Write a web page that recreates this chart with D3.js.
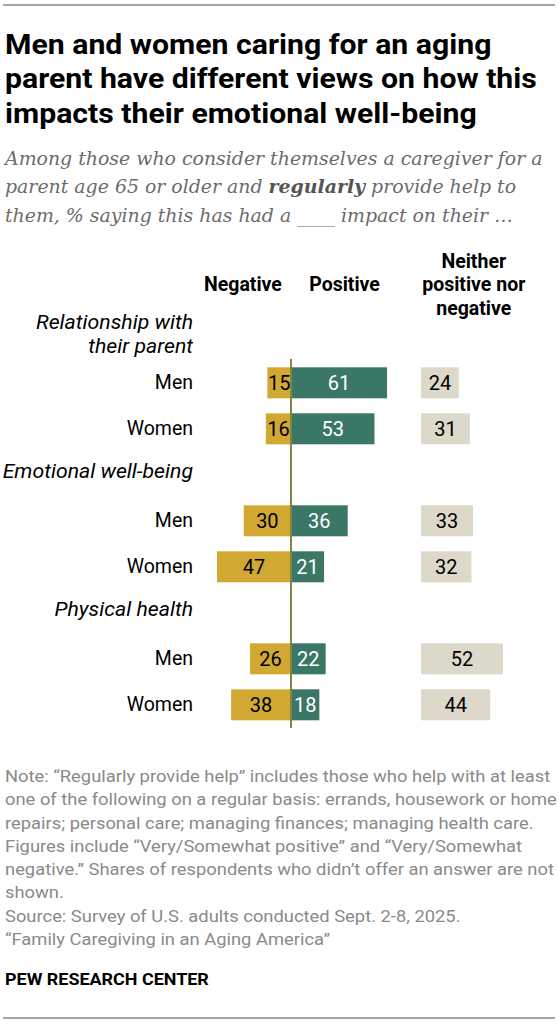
<!DOCTYPE html>
<html>
<head>
<meta charset="utf-8">
<script src="https://cdn.jsdelivr.net/npm/d3@7"></script>
<style>
  html, body { margin: 0; padding: 0; background: #fff; }
  svg { display: block; }
</style>
</head>
<body>
<svg id="chart" width="559" height="1024"></svg>
<script>
// ---------------- data ----------------
const groups = ["Relationship with|their parent", "Emotional well-being", "Physical health"];
const rowLabels = ["Men", "Women"];
const negative = [15, 16, 30, 47, 26, 38];
const positive = [61, 53, 36, 21, 22, 18];
const neither  = [24, 31, 33, 32, 52, 44];
const headers = ["Negative", "Positive", "Neither|positive nor|negative"];

const titleLines = [
  "Men and women caring for an aging",
  "parent have different views on how this",
  "impacts their emotional well-being"
];
const subtitleLines = [
  [["Among those who consider themselves a caregiver for a", false]],
  [["parent age 65 or older and ", false], ["regularly", true], [" provide help to", false]],
  [["them, % saying this has had a ____ impact on their …", false]]
];
const noteLines = [
  "Note: \u201cRegularly provide help\u201d includes those who help with at least",
  "one of the following on a regular basis: errands, housework or home",
  "repairs; personal care; managing finances; managing health care.",
  "Figures include \u201cVery/Somewhat positive\u201d and \u201cVery/Somewhat",
  "negative.\u201d Shares of respondents who didn\u2019t offer an answer are not",
  "shown.",
  "Source: Survey of U.S. adults conducted Sept. 2-8, 2025.",
  "\u201cFamily Caregiving in an Aging America\u201d"
];
const credit = "PEW RESEARCH CENTER";

// ---------------- build rows ----------------
const rows = [];
groups.forEach((g, gi) => rowLabels.forEach((r, ri) => {
  const i = gi * rowLabels.length + ri;
  rows.push({group: g, row: r, neg: negative[i], pos: positive[i], nei: neither[i]});
}));

// ---------------- styles ----------------
const C = {
  neg: "#D1A832", pos: "#3A7767", nei: "#DCD9CA", zero: "#85843F",
  text: "#000", sub: "#6b6b6b", note: "#8a8a8a", rule: "#a6a6a6"
};
const SANS = "Roboto, 'Noto Sans', 'Liberation Sans', Arial, sans-serif";
const SERIF = "'DejaVu Serif', 'Liberation Serif', Georgia, serif";

const svg = d3.select("#chart");

// rules
svg.append("line").attr("x1", 3).attr("x2", 555).attr("y1", 5).attr("y2", 5)
  .attr("stroke", C.rule).attr("stroke-width", 2);
svg.append("line").attr("x1", 3).attr("x2", 555).attr("y1", 1018).attr("y2", 1018)
  .attr("stroke", C.rule).attr("stroke-width", 2);

function fitGroup(g, x0, target) {
  const w = d3.max(g.selectAll("text").nodes(), n => n.getComputedTextLength());
  const s = target / w;
  g.attr("transform", `translate(${x0},0) scale(${s},1)`);
}

// title
const tg = svg.append("g");
tg.selectAll("text").data(titleLines).join("text")
  .attr("x", 0).attr("y", (d, i) => 54 + i * 34.5)
  .attr("font-family", SANS).attr("font-weight", 700).attr("font-size", 28)
  .attr("fill", C.text).text(d => d);
fitGroup(tg, 5, 532);

// subtitle
const sg = svg.append("g");
sg.selectAll("text").data(subtitleLines).join("text")
  .attr("x", 0).attr("y", (d, i) => 165 + i * 28.5)
  .attr("font-family", SERIF).attr("font-style", "italic").attr("font-size", 19)
  .attr("fill", C.sub)
  .each(function(parts) {
    d3.select(this).selectAll("tspan").data(parts).join("tspan")
      .attr("font-weight", p => p[1] ? 700 : 400)
      .attr("fill", p => p[1] ? "#555" : C.sub)
      .text(p => p[0]);
  });
fitGroup(sg, 5, 538);

// ---------------- scales ----------------
const x = d3.scaleLinear().domain([-100, 100]).range([291 - 157.5, 291 + 157.5]);
const xN = d3.scaleLinear().domain([0, 100]).range([421, 421 + 157.5]);
const yGroup = d3.scalePoint().domain(groups).range([382.8, 658.8]);
const yRow = d3.scalePoint().domain(rowLabels).range([0, 46]);
const barH = 31;
const yc = d => yGroup(d.group) + yRow(d.row);

// headers (vertically centred on the single-line headers)
const headerX = [x(-30.5), x(34), xN(33.5)];
const hg = svg.append("g");
headers.forEach((h, i) => {
  const lines = h.split("|");
  const mid = 291;
  hg.append("text")
    .attr("text-anchor", "middle")
    .attr("font-family", SANS).attr("font-weight", 700).attr("font-size", 19.5)
    .attr("fill", C.text)
    .selectAll("tspan").data(lines).join("tspan")
    .attr("x", headerX[i])
    .attr("y", (d, j) => mid + (j - (lines.length - 1) / 2) * 23.5)
    .text(d => d);
});

// group labels
groups.forEach(g => {
  const lines = g.split("|");
  const lastY = yGroup(g) - (lines.length > 1 ? 30 : 43);
  svg.append("g").attr("transform", `translate(193,0) scale(1.09,1)`)
    .append("text")
    .attr("text-anchor", "end")
    .attr("font-family", SANS).attr("font-style", "italic").attr("font-size", 19.5)
    .attr("fill", C.text)
    .selectAll("tspan").data(lines).join("tspan")
    .attr("x", 0)
    .attr("y", (d, j) => lastY - (lines.length - 1 - j) * 23.3)
    .text(d => d);
});

// row labels
svg.append("g").selectAll("text").data(rows).join("text")
  .attr("x", 193).attr("y", d => yc(d) + 6.5)
  .attr("text-anchor", "end")
  .attr("font-family", SANS).attr("font-size", 19.5).attr("fill", C.text)
  .text(d => d.row);

// bars
const bars = svg.append("g");
bars.selectAll("rect.neg").data(rows).join("rect").attr("class", "neg")
  .attr("x", d => x(-d.neg)).attr("width", d => x(0) - x(-d.neg))
  .attr("y", d => yc(d) - barH / 2).attr("height", barH).attr("fill", C.neg);
bars.selectAll("rect.pos").data(rows).join("rect").attr("class", "pos")
  .attr("x", x(0)).attr("width", d => x(d.pos) - x(0))
  .attr("y", d => yc(d) - barH / 2).attr("height", barH).attr("fill", C.pos);
bars.selectAll("rect.nei").data(rows).join("rect").attr("class", "nei")
  .attr("x", xN(0)).attr("width", d => xN(d.nei) - xN(0))
  .attr("y", d => yc(d) - barH / 2).attr("height", barH).attr("fill", C.nei);

// value labels
const lbl = svg.append("g").attr("font-family", SANS).attr("font-size", 20).attr("text-anchor", "middle");
lbl.selectAll("text.neg").data(rows).join("text").attr("class", "neg")
  .attr("x", d => (x(-d.neg) + x(0)) / 2).attr("y", d => yc(d) + 7)
  .attr("fill", "#000").text(d => d.neg);
lbl.selectAll("text.pos").data(rows).join("text").attr("class", "pos")
  .attr("x", d => (x(d.pos) + x(0)) / 2).attr("y", d => yc(d) + 7)
  .attr("fill", "#fff").text(d => d.pos);
lbl.selectAll("text.nei").data(rows).join("text").attr("class", "nei")
  .attr("x", d => (xN(d.nei) + xN(0)) / 2).attr("y", d => yc(d) + 7)
  .attr("fill", "#000").text(d => d.nei);

// zero line
svg.append("line").attr("x1", x(0)).attr("x2", x(0)).attr("y1", 359).attr("y2", 728)
  .attr("stroke", C.zero).attr("stroke-width", 2);

// notes
const ng = svg.append("g");
ng.selectAll("text").data(noteLines).join("text")
  .attr("x", 0).attr("y", (d, i) => 782 + i * 23.3)
  .attr("font-family", SANS).attr("font-size", 17).attr("fill", C.note)
  .text(d => d);
fitGroup(ng, 5, 552);

const cg = svg.append("g");
cg.append("text").attr("x", 0).attr("y", 985)
  .attr("font-family", SANS).attr("font-weight", 700).attr("font-size", 17)
  .attr("fill", C.text).text(credit);
fitGroup(cg, 5, 204);
</script>
</body>
</html>
